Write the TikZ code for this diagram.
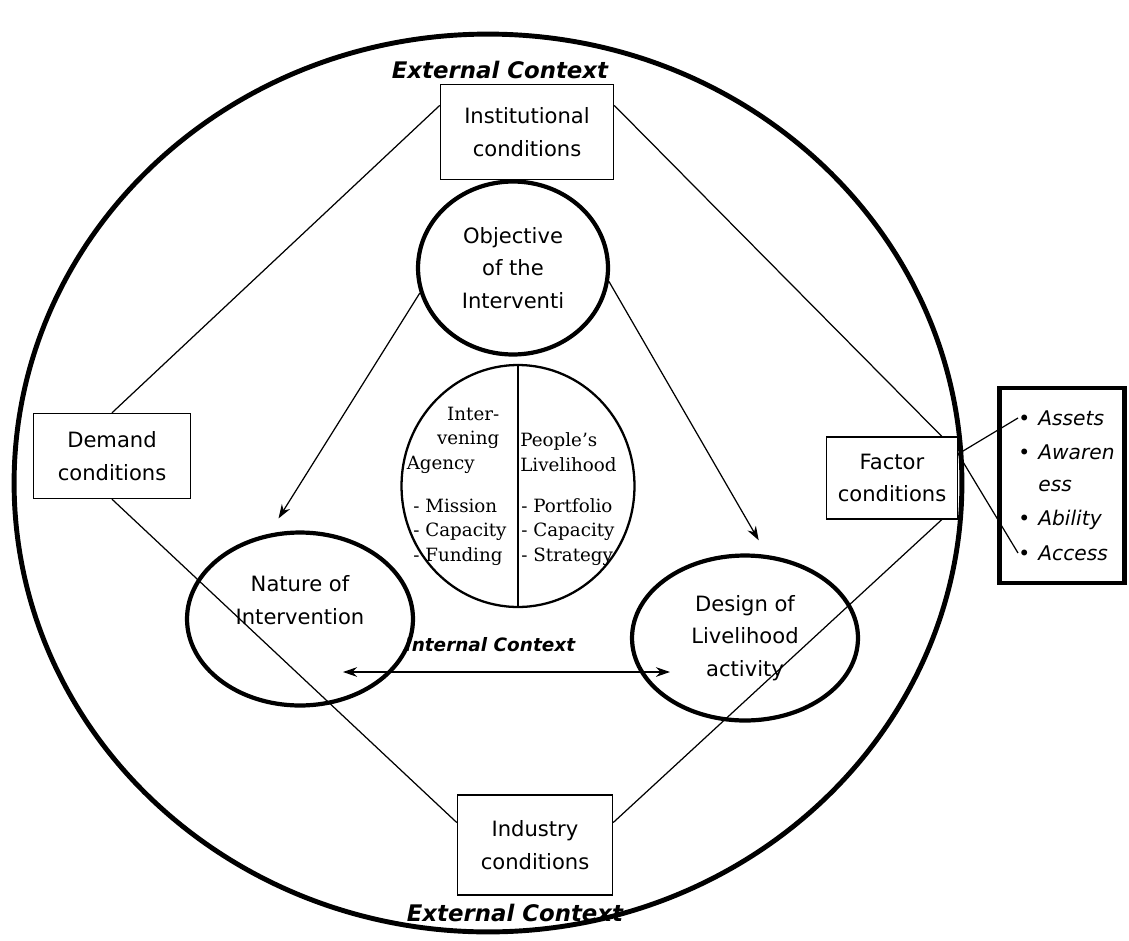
\documentclass[tikz,border=0pt]{standalone}
\usepackage{fontspec}
\setmainfont{DejaVu Sans}
\newfontfamily\schoolfont{DejaVu Serif}
\usetikzlibrary{shapes.geometric, arrows.meta, positioning, calc}

\begin{document}
\begin{tikzpicture}[
  x=0.02cm, y=-0.02cm,
  txt/.style={font=\fontsize{12}{18.6}\selectfont, align=center},
  cond/.style={rectangle, draw, line width=0.8pt, txt},
  blob/.style={ellipse, draw, line width=2.4pt, txt},
  link/.style={line width=0.7pt},
  arrow/.style={line width=0.7pt, -{Stealth[length=8pt, width=5.5pt]}},
  biarrow/.style={line width=0.7pt, {Stealth[length=8pt, width=5.5pt]}-{Stealth[length=8pt, width=5.5pt]}},
  ctx/.style={font=\fontsize{13}{15}\selectfont\bfseries\itshape},
  serif/.style={font=\schoolfont\fontsize{10.4}{14}\selectfont, inner sep=0pt},
  item/.style={anchor=west, inner sep=0pt, font=\fontsize{11.5}{12}\selectfont\itshape}
]
  \useasboundingbox (0,0) rectangle (1129,940);

  % external context
  \node[ellipse, draw, line width=2.8pt, minimum width=18.96cm, minimum height=17.96cm] (outer) at (488,483) {};
  \node[ctx] (extTop) at (500,70) {External Context};
  \node[ctx] (extBot) at (515,913) {External Context};

  \node[cond, minimum width=3.46cm, minimum height=1.9cm] (inst) at (527,132) {Institutional\\conditions};
  \node[cond, minimum width=3.14cm, minimum height=1.7cm] (demand) at (112,456) {Demand\\conditions};
  \node[cond, minimum width=2.62cm, minimum height=1.64cm] (factor) at (892,478) {Factor\\conditions};
  \node[cond, minimum width=3.1cm, minimum height=2cm] (industry) at (535,845) {Industry\\conditions};

  % internal context
  \node[blob, minimum width=3.8cm, minimum height=3.46cm] (obj) at (513,268) {Objective\\of the\\Interventi};
  \node[blob, minimum width=4.52cm, minimum height=3.46cm,
        label={[txt, yshift=0.38cm]center:Nature of\\Intervention}] (nature) at (300,619) {};
  \node[blob, minimum width=4.52cm, minimum height=3.3cm] (design) at (745,638) {Design of\\Livelihood\\activity};
  \node[ctx, font=\fontsize{10.5}{12}\selectfont\bfseries\itshape] (intCtx) at (490,645) {Internal Context};

  \node[ellipse, draw, line width=1.3pt, minimum width=4.66cm, minimum height=4.84cm] (core) at (518,486) {};
  \draw[line width=0.8pt] (core.north) -- (core.south);
  \node[serif, text width=1.85cm, align=left] (agHead) at (453,440) {\hfill Inter-\\\hfill vening\\Agency};
  \node[serif, anchor=west, align=left] (agList) at (413,532) {- Mission\\- Capacity\\- Funding};
  \node[serif, anchor=west, align=left] (plHead) at (520,452) {People’s\\Livelihood};
  \node[serif, anchor=west, align=left] (plList) at (521,532) {- Portfolio\\- Capacity\\- Strategy};

  % factor list
  \node[draw, line width=2.8pt, minimum width=2.5cm, minimum height=3.9cm] (factList) at (1062,485.5) {};
  \node[item] (assets) at (1018,418) {\textbullet\hspace{0.4em}Assets};
  \node[item] (aware) at (1018,452) {\textbullet\hspace{0.4em}Awaren};
  \node[item] (aware2) at (1038,486) {ess};
  \node[item] (ability) at (1018,520) {\textbullet\hspace{0.4em}Ability};
  \node[item] (access) at (1018,553) {\textbullet\hspace{0.4em}Access};

  \draw[link] (inst.163) -- (demand.north);
  \draw[link] (inst.17) -- (factor.40);
  \draw[link] (demand.south) -- (industry.164);
  \draw[link] (industry.16) -- (factor.-40);
  \draw[link] (factor.20) -- (assets.west);
  \draw[link] (factor.20) -- (access.west);

  \draw[arrow, shorten >=0.36cm] (obj.195) -- (nature.110);
  \draw[arrow, shorten >=0.34cm] (obj.-8) -- (design.75);
  \coordinate (inL) at (343,672);
  \coordinate (inR) at (670,672);
  \draw[biarrow] (inL) -- (inR);
\end{tikzpicture}
\end{document}
